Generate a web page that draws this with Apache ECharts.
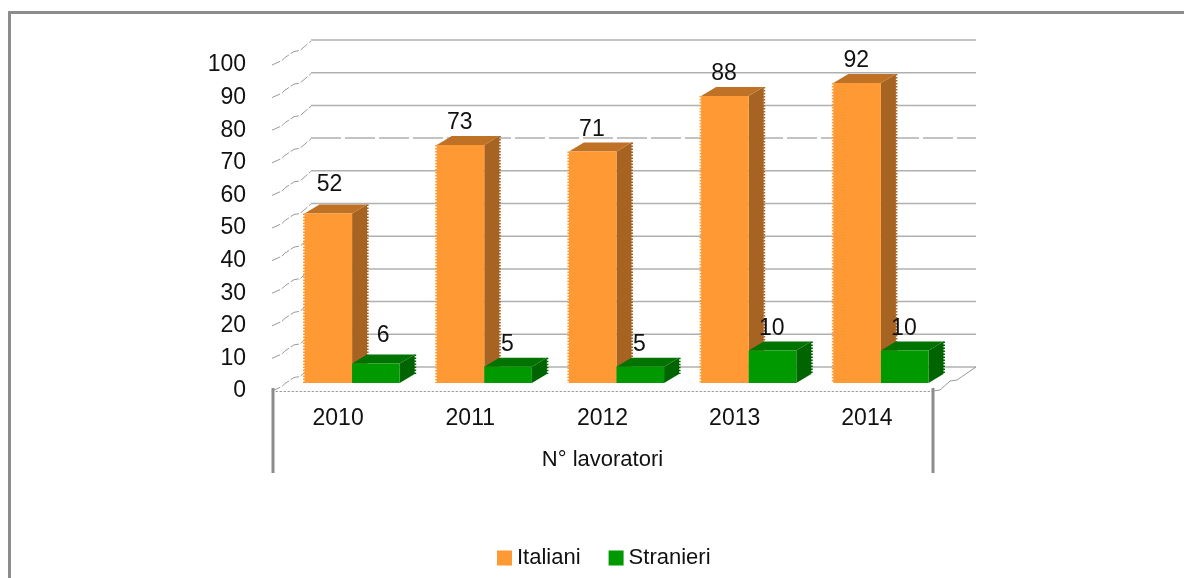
<!DOCTYPE html>
<html lang="it">
<head>
    <meta charset="UTF-8">
    <title>N° lavoratori</title>
    <script src="https://cdnjs.cloudflare.com/ajax/libs/echarts/6.0.0/echarts.min.js"></script>
    <style>
        * { margin: 0; padding: 0; box-sizing: border-box; }
        html, body { width: 1184px; height: 578px; background: #fff; overflow: hidden; }
        #chart { position: absolute; left: 0; top: 0; width: 1184px; height: 578px; }
        /* cornice grigia: solo lato sinistro e alto sono visibili */
        #frame {
            position: absolute; left: 8px; top: 11px; width: 1176px; height: 567px;
            border-top: 3px solid #8c8c8c; border-left: 3px solid #8c8c8c;
        }
    </style>
</head>
<body>
    <div id="chart"></div>
    <div id="frame"></div>
    <script>
        const years = ['2010', '2011', '2012', '2013', '2014'];
        const italiani = [52, 73, 71, 88, 92];
        const stranieri = [6, 5, 5, 10, 10];
        const yTicks = [0, 10, 20, 30, 40, 50, 60, 70, 80, 90, 100];

        const FONT = '"Liberation Sans", Arial, sans-serif';
        const DEPTH_X = 15, DEPTH_Y = 9;
        const BAR_RATIO = 0.36;
        // scarto in px delle etichette piu' alte (52 e 6)
        const raisedLabels = { '0-0': [2, -7], '1-0': [8, -6] };
        // profilo a gradini delle linee sulla parete laterale
        const stairLeft = [[0, 0], [10, -4.5], [13, -7.5], [22, -13.5], [28, -14.5], [39, -24]];
        const stairRight = [[0, 0], [7, -1], [17, -10], [24, -11], [40, -22], [43, -24]];

        function poly(points, fill) {
            return { type: 'polygon', shape: { points: points }, style: { fill: fill } };
        }
        function jag(x1, y1, x2, y2, color) {
            return {
                type: 'line',
                shape: { x1: x1, y1: y1, x2: x2, y2: y2 },
                style: { stroke: color, lineWidth: 2, lineDash: [1.5, 1.5], fill: null }
            };
        }

        // barra 3D: fronte, fianco, cima, etichetta
        function barRenderer(seriesIdx, colors) {
            return function (params, api) {
                const idx = api.value(0), val = api.value(1);
                const base = api.coord([idx, 0]);
                const top = api.coord([idx, val]);
                const w = api.size([1, 0])[0] * BAR_RATIO;
                const x0 = seriesIdx === 0 ? base[0] - w : base[0];
                const x1 = x0 + w;
                const nudge = raisedLabels[seriesIdx + '-' + idx] || [0, 0];
                return {
                    type: 'group',
                    children: [
                        poly([[x1, base[1]], [x1 + DEPTH_X, base[1] - DEPTH_Y], [x1 + DEPTH_X, top[1] - DEPTH_Y], [x1, top[1]]], colors.side),
                        poly([[x0, top[1]], [x0 + DEPTH_X, top[1] - DEPTH_Y], [x1 + DEPTH_X, top[1] - DEPTH_Y], [x1, top[1]]], colors.top),
                        poly([[x0, base[1]], [x0, top[1]], [x1, top[1]], [x1, base[1]]], colors.front),
                        seriesIdx === 0 ? jag(x0 - 0.5, top[1], x0 - 0.5, base[1], colors.front) : null,
                        jag(x1 + DEPTH_X + 0.5, top[1] - DEPTH_Y, x1 + DEPTH_X + 0.5, base[1] - DEPTH_Y, colors.side),
                        {
                            type: 'text',
                            z2: 10,
                            style: {
                                x: x0 + 23 + nudge[0], y: top[1] - 22 + nudge[1],
                                text: String(val), fill: '#111', font: '23px ' + FONT,
                                align: 'center', verticalAlign: 'middle'
                            }
                        }
                    ].filter(Boolean)
                };
            };
        }

        // linee orizzontali sulla parete di fondo
        function renderWall(params, api) {
            const t = api.value(0);
            const a = api.coord([0, t]), b = api.coord([1, t]);
            return {
                type: 'line',
                shape: { x1: a[0], y1: a[1], x2: b[0], y2: b[1] },
                style: {
                    stroke: '#b0b0b0', lineWidth: 1.5, fill: null,
                    lineDash: t === 70 ? [30, 4] : null
                }
            };
        }

        // gradini sul lato sinistro, piu' pavimento destro e stanghette del gruppo
        function renderSide(params, api) {
            const t = api.value(0);
            const y = api.coord([0, t])[1];
            const x = params.coordSys.x;
            const children = [{
                type: 'polyline',
                shape: { points: stairLeft.map(p => [x + p[0], y + p[1]]) },
                style: { stroke: '#9a9a9a', lineWidth: 1, lineDash: [9, 2], fill: null }
            }];
            if (t === 0) {
                const xr = x + params.coordSys.width;
                children.push({
                    type: 'polyline',
                    shape: { points: stairRight.map(p => [xr + p[0], y + p[1]]) },
                    style: { stroke: '#9a9a9a', lineWidth: 1, fill: null }
                });
                [x + 1, xr].forEach(px => children.push({
                    type: 'line',
                    shape: { x1: px, y1: y - 3, x2: px, y2: y + 82 },
                    style: { stroke: '#8c8c8c', lineWidth: 3 }
                }));
            }
            return { type: 'group', children: children };
        }

        const chart = echarts.init(document.getElementById('chart'));
        chart.setOption({
            animation: false,
            backgroundColor: '#fff',
            textStyle: { fontFamily: FONT },
            grid: [
                { left: 272, right: 251, top: 65, bottom: 187 },   // piano frontale (assi)
                { left: 311, right: 208, top: 40, bottom: 211 },   // parete di fondo
                { left: 286, right: 237, top: 57, bottom: 195 }    // piano delle barre
            ],
            xAxis: [
                {
                    type: 'category', gridIndex: 0, data: years,
                    axisLine: { lineStyle: { color: '#999', type: [1.5, 2.5], width: 1 } },
                    axisTick: { show: false },
                    axisLabel: { color: '#111', fontSize: 23, margin: 16 },
                    name: 'N° lavoratori', nameLocation: 'middle', nameGap: 58,
                    nameTextStyle: { color: '#111', fontSize: 22 }
                },
                { type: 'value', gridIndex: 1, min: 0, max: 1, show: false, splitLine: { show: false } },
                { type: 'category', gridIndex: 2, data: years, show: false }
            ],
            yAxis: [
                {
                    type: 'value', gridIndex: 0, min: 0, max: 100, interval: 10,
                    axisLine: { show: false }, axisTick: { show: false },
                    splitLine: { show: false },
                    axisLabel: { color: '#111', fontSize: 23, margin: 26 }
                },
                { type: 'value', gridIndex: 1, min: 0, max: 100, interval: 10, show: false, splitLine: { show: false } },
                { type: 'value', gridIndex: 2, min: 0, max: 100, interval: 10, show: false, splitLine: { show: false } }
            ],
            legend: {
                left: 497, top: 547, padding: 0, itemWidth: 15, itemHeight: 15, itemGap: 28,
                icon: 'rect',
                data: ['Italiani', 'Stranieri'],
                textStyle: { color: '#111', fontSize: 22 }
            },
            series: [
                {
                    type: 'custom', xAxisIndex: 1, yAxisIndex: 1, silent: true, z: 1, clip: false,
                    renderItem: renderWall, data: yTicks.map(t => [t]), encode: { y: 0 }
                },
                {
                    type: 'custom', xAxisIndex: 0, yAxisIndex: 0, silent: true, z: 1, clip: false,
                    renderItem: renderSide, data: yTicks.map(t => [t]), encode: { y: 0 }
                },
                {
                    name: 'Italiani', type: 'custom', xAxisIndex: 2, yAxisIndex: 2, z: 3, clip: false,
                    itemStyle: { color: '#ff9933' },
                    renderItem: barRenderer(0, { front: '#ff9933', top: '#bf7226', side: '#a66321' }),
                    data: italiani.map((v, i) => [i, v]), encode: { x: 0, y: 1 }
                },
                {
                    name: 'Stranieri', type: 'custom', xAxisIndex: 2, yAxisIndex: 2, z: 4, clip: false,
                    itemStyle: { color: '#009900' },
                    renderItem: barRenderer(1, { front: '#009900', top: '#007300', side: '#006400' }),
                    data: stranieri.map((v, i) => [i, v]), encode: { x: 0, y: 1 }
                }
            ]
        });
    </script>
</body>
</html>
